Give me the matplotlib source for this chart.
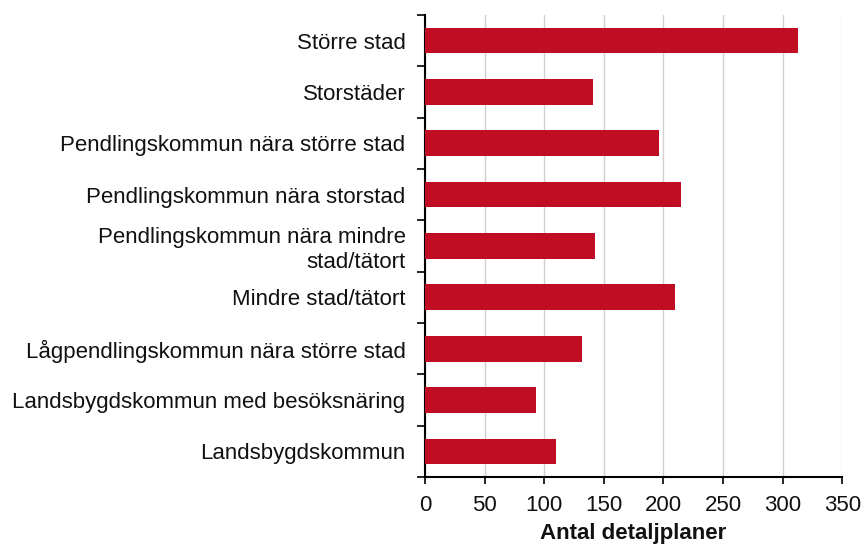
import numpy as np
import matplotlib.pyplot as plt

categories = [
    "Större stad",
    "Storstäder",
    "Pendlingskommun nära större stad",
    "Pendlingskommun nära storstad",
    "Pendlingskommun nära mindre\nstad/tätort",
    "Mindre stad/tätort",
    "Lågpendlingskommun nära större stad",
    "Landsbygdskommun med besöksnäring",
    "Landsbygdskommun",
]
values = [313, 141, 196, 215, 143, 210, 132, 93, 110]
x_ticks = [0, 50, 100, 150, 200, 250, 300, 350]

plt.rcParams['font.family'] = ['Liberation Sans', 'DejaVu Sans']

fig = plt.figure(figsize=(8.62, 5.49), dpi=100)
ax = fig.add_axes([0.493, 0.131, 0.484, 0.842])

n = len(categories)
y = np.arange(n)
ax.barh(y, values, height=0.5, color='#C00D23', zorder=3)

ax.set_ylim(n - 0.5, -0.5)
ax.set_xlim(0, 350)
ax.set_xticks(x_ticks)
ax.set_yticks(y)
ax.set_yticklabels(categories, fontsize=16, color='#111111')
ax.set_yticks(np.arange(n + 1) - 0.5, minor=True)
ax.tick_params(axis='y', which='major', length=0, pad=14)
ax.tick_params(axis='y', which='minor', length=6, width=1.2, direction='out')
ax.tick_params(axis='x', labelsize=16, labelcolor='#111111', length=5, width=1.2,
               direction='out', pad=8)

ax.xaxis.grid(True, color='#D0D0D0', linewidth=1, zorder=0)
ax.set_axisbelow(True)

for side in ['top', 'right']:
    ax.spines[side].set_visible(False)
for side in ['left', 'bottom']:
    ax.spines[side].set_linewidth(1.5)
    ax.spines[side].set_color('black')

ax.set_xlabel("Antal detaljplaner", fontsize=16, fontweight='bold', color='#111111', labelpad=5)

fig.savefig('out.png', dpi=100)
